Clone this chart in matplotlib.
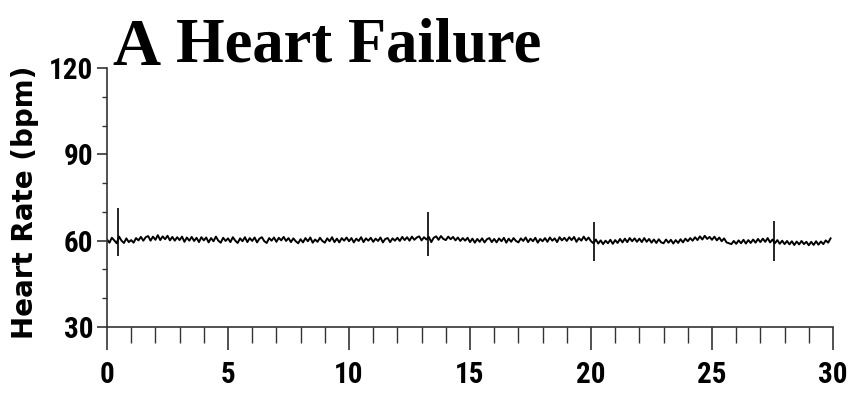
import matplotlib
matplotlib.use("Agg")
import matplotlib.pyplot as plt
import numpy as np
from matplotlib import font_manager
from matplotlib.ticker import MultipleLocator

# heart rate samples, one every 0.1 min (rows = one minute each)
hr = [
    60.4, 59.3, 61.0, 60.1, 59.1, 61.4, 60.0, 59.2, 60.8, 59.5,
    60.2, 59.3, 60.9, 60.1, 61.3, 60.0, 61.2, 61.6, 60.0, 61.4,
    60.3, 61.9, 60.2, 61.5, 60.5, 61.7, 60.1, 61.3, 60.0, 61.2,
    60.2, 61.4, 59.6, 61.1, 60.0, 61.3, 59.9, 61.0, 59.5, 61.2,
    60.1, 61.1, 59.4, 60.9, 59.8, 61.4, 60.0, 59.3, 61.0, 59.9,
    60.8, 59.5, 61.2, 60.0, 59.2, 60.8, 59.8, 61.2, 59.5, 60.9,
    59.9, 61.1, 59.4, 60.7, 61.2, 59.8, 59.2, 60.9, 60.0, 61.1,
    59.6, 61.0, 60.1, 61.3, 59.9, 60.9, 59.5, 60.8, 59.8, 59.1,
    60.5, 59.4, 60.9, 59.8, 61.1, 59.3, 60.4, 59.6, 61.0, 59.9,
    59.3, 60.8, 59.8, 61.2, 59.5, 60.7, 59.4, 60.9, 60.0, 61.1,
    59.8, 60.9, 59.4, 60.7, 59.9, 61.2, 59.5, 60.8, 60.0, 61.0,
    59.6, 60.7, 59.9, 61.1, 59.4, 60.6, 60.9, 59.5, 60.8, 60.0,
    61.0, 59.9, 61.3, 60.2, 61.2, 60.0, 61.4, 60.3, 61.1, 61.5,
    60.1, 61.2, 60.4, 61.3, 59.5, 61.0, 61.5, 60.3, 61.6, 60.6,
    60.2, 61.4, 60.5, 61.3, 60.1, 61.1, 59.9, 60.9, 60.0, 61.0,
    59.5, 60.7, 59.3, 60.6, 59.6, 60.8, 59.4, 60.5, 60.9, 59.5,
    60.6, 59.4, 60.8, 59.8, 61.0, 59.3, 60.7, 59.6, 60.9, 59.9,
    59.4, 60.8, 59.9, 61.1, 59.5, 60.7, 59.8, 61.0, 59.3, 60.6,
    59.8, 60.9, 59.6, 61.1, 60.0, 60.8, 59.5, 61.2, 60.1, 61.0,
    59.9, 61.2, 60.2, 61.3, 59.6, 60.9, 60.0, 61.4, 60.1, 61.1,
    59.8, 59.1, 60.4, 59.0, 60.1, 58.8, 60.0, 59.1, 60.3, 58.9,
    60.2, 59.2, 60.6, 59.4, 60.7, 59.5, 60.9, 59.8, 60.8, 59.6,
    60.7, 59.5, 60.9, 59.6, 60.6, 59.3, 60.4, 59.2, 60.5, 59.4,
    59.1, 60.4, 59.3, 60.3, 59.0, 60.2, 59.2, 60.5, 59.4, 60.7,
    59.8, 60.9, 60.0, 61.2, 60.2, 61.5, 60.4, 61.7, 60.6, 61.3,
    60.3, 61.4, 60.1, 61.1, 59.8, 60.8, 59.4, 59.1, 58.8, 59.9,
    58.9, 60.1, 59.1, 60.3, 59.0, 60.2, 59.2, 60.4, 59.3, 60.6,
    59.5, 60.7, 59.6, 60.9, 59.4, 60.4, 59.1, 60.2, 58.9, 60.0,
    58.8, 59.9, 58.7, 59.8, 58.5, 59.7, 58.7, 59.9, 58.8, 59.6,
    58.4, 59.6, 58.5, 59.8, 58.6, 59.7, 58.8, 60.1, 59.3, 60.8,
]
t = np.arange(len(hr)) * 0.1  # minutes

# artifact spikes (time, max, min)
spike_t = [0.45, 13.26, 20.12, 27.56]
spike_hi = [71.5, 70.0, 66.5, 67.0]
spike_lo = [54.5, 54.5, 52.8, 53.0]

xticks = [0, 5, 10, 15, 20, 25, 30]
yticks = [30, 60, 90, 120]

# look for some condensed sans for the tick numbers
fonts = font_manager.fontManager.ttflist
names = {f.name for f in fonts}
narrow = None
for cand in ['Liberation Sans Narrow', 'Roboto Condensed', 'Open Sans Condensed',
             'Noto Sans Condensed', 'DejaVu Sans Condensed']:
    if cand in names:
        narrow = cand
        break
stretch = 'normal'
if narrow is None:
    for f in fonts:
        if f.name in ('DejaVu Sans', 'Roboto', 'Noto Sans', 'Open Sans') and 'condensed' in str(f.stretch):
            narrow, stretch = f.name, 'condensed'
            break
if narrow is None:
    narrow = 'Liberation Sans'

fig = plt.figure(figsize=(8.48, 3.93), dpi=100)
ax = fig.add_axes([107/848, 1-327/393, 726/848, 259/393])

ax.plot(t, hr, color='black', lw=1.4)
ax.vlines(spike_t, spike_lo, spike_hi, color='black', lw=1.2)

ax.set_xlim(0, 30)
ax.set_ylim(30, 120)
ax.set_xticks(xticks)
ax.set_yticks(yticks)
ax.xaxis.set_minor_locator(MultipleLocator(1))
ax.yaxis.set_minor_locator(MultipleLocator(10))
for s in ['top', 'right']:
    ax.spines[s].set_visible(False)
for s in ['left', 'bottom']:
    ax.spines[s].set_color('#333333')
    ax.spines[s].set_linewidth(1.2)

ax.tick_params(axis='x', which='major', direction='out', length=16.5, width=1.2, color='#333333', pad=8)
ax.tick_params(axis='x', which='minor', direction='out', length=11.5, width=1.0, color='#333333')
ax.tick_params(axis='y', which='major', direction='out', length=7, width=1.2, color='#333333', pad=3)
ax.tick_params(axis='y', which='minor', direction='out', length=3.6, width=1.0, color='#333333')
for lab in ax.get_xticklabels() + ax.get_yticklabels():
    lab.set_family(narrow)
    lab.set_fontstretch(stretch)
    lab.set_fontweight('bold')
    lab.set_fontsize(21)

fig.text(0.03, 1-202/393, 'Heart Rate (bpm)', rotation=90, ha='center', va='center',
         fontsize=20, fontweight='bold', family='DejaVu Sans')

fig.text(136/848, 1-65/393, 'A', ha='center', va='baseline', fontsize=48,
         fontweight='bold', family='Liberation Serif')
fig.text(176/848, 1-62/393, 'Heart Failure', ha='left', va='baseline', fontsize=45,
         fontweight='bold', family='Liberation Serif')

fig.savefig('out.png', dpi=100)
